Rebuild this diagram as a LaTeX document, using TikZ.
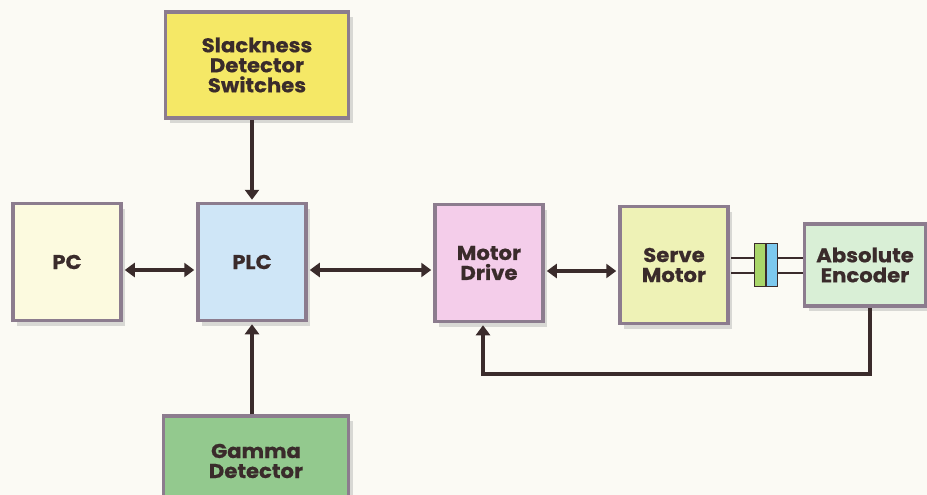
\documentclass[tikz,border=0pt]{standalone}
\usepackage{fontspec}
\setmainfont[BoldFeatures={FakeStretch=1.06,FakeBold=0.6}]{Poppins}
\usetikzlibrary{arrows.meta,positioning,calc,shadows}
\definecolor{bg}{HTML}{FBFAF4}
\definecolor{edge}{HTML}{8C7C8E}
\definecolor{ink}{HTML}{3A2B2B}
\definecolor{cSlack}{HTML}{F5E866}
\definecolor{cPC}{HTML}{FCFADF}
\definecolor{cPLC}{HTML}{CFE6F7}
\definecolor{cMD}{HTML}{F4CDEA}
\definecolor{cSM}{HTML}{EEF2B6}
\definecolor{cEnc}{HTML}{D9EFD6}
\definecolor{cGam}{HTML}{93C98E}
\definecolor{cCpA}{HTML}{A9D66A}
\definecolor{cCpB}{HTML}{7CC8EE}
\tikzset{
  x=1pt,y=-1pt,
  blk/.style={draw=edge,line width=3.5pt,align=center,font=\bfseries\fontsize{20}{20}\selectfont,text=ink,inner sep=0pt,
    drop shadow={shadow xshift=4pt,shadow yshift=-5pt,fill=black!40,opacity=0.35}},
  conn/.style={draw=ink,line width=4.5pt},
  tip/.style={-{Triangle[width=14pt,length=10pt]}},
  tips/.style={{Triangle[width=14pt,length=10pt]}-{Triangle[width=14pt,length=10pt]}},
}
\begin{document}
\begin{tikzpicture}
\fill[bg] (0,0) rectangle (927,495);
\useasboundingbox (0,0) rectangle (927,495);
% boxes
\node[blk,fill=cSlack,minimum width=183pt,minimum height=106pt] (slack) at (257,65) {Slackness\\Detector\\Switches};
\node[blk,fill=cPC,minimum width=108pt,minimum height=117pt] (pc) at (67,262) {PC};
\node[blk,fill=cPLC,minimum width=108pt,minimum height=117pt] (plc) at (252,262) {PLC};
\node[blk,fill=cMD,minimum width=108pt,minimum height=117pt] (md) at (489,263) {Motor\\Drive};
\node[blk,fill=cSM,minimum width=108pt,minimum height=117pt] (sm) at (674,265) {Serve\\Motor};
\node[blk,fill=cEnc,minimum width=121pt,minimum height=82pt] (enc) at (865,265) {Absolute\\Encoder};
\node[blk,fill=cGam,minimum width=185pt,minimum height=90pt] (gam) at (256,461) {Gamma\\Detector};
% coupling
\coordinate (c1) at (731,258);
\coordinate (c2) at (731,273);
\draw[ink,line width=1.2pt] (c1) -- (c1 -| enc.west);
\draw[ink,line width=1.2pt] (c2) -- (c2 -| enc.west);
\node[draw=ink,line width=1pt,fill=cCpA,minimum width=11pt,minimum height=43pt,inner sep=0pt] (cpa) at (759.5,265) {};
\node[draw=ink,line width=1pt,fill=cCpB,minimum width=11pt,minimum height=43pt,inner sep=0pt,anchor=west] (cpb) at (cpa.east) {};
% connectors
\draw[conn,tip] (slack.south -| plc.north) -- ([yshift=2pt]plc.north);
\draw[conn,tip] (gam.north -| plc.south) -- ([yshift=-2pt]plc.south);
\draw[conn,tips] ([xshift=2pt]pc.east |- 0,270) -- ([xshift=-2pt]plc.west |- 0,270);
\draw[conn,tips] ([xshift=2pt]plc.east |- 0,270) -- ([xshift=-2pt]md.west |- 0,270);
\draw[conn,tips] ([xshift=2pt]md.east |- 0,271) -- ([xshift=-2pt]sm.west |- 0,271);
\coordinate (fb1) at (870,374);
\coordinate (fb2) at (483,374);
\draw[conn,tip] (enc.south -| fb1) -- (fb1) -- (fb2) -- ([yshift=-2pt]md.south -| fb2);
\end{tikzpicture}
\end{document}
